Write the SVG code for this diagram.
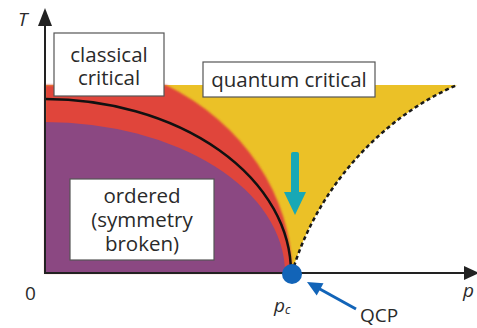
<svg xmlns="http://www.w3.org/2000/svg" width="477" height="328" viewBox="0 0 477 328">
  <style>
    .box { fill: #ffffff; stroke: #555555; stroke-width: 1.2; }
    .lbl { font-family: "Open Sans", "Noto Sans", sans-serif; font-size: 20.5px; fill: #2a2a2a; text-anchor: middle; }
    .ax { font-family: "Open Sans", "Noto Sans", sans-serif; font-size: 19px; fill: #2a2a2a; }
    .axis { stroke: #222222; stroke-width: 2; fill: none; }
  </style>
  <defs>
    <filter id="soft" x="-5%" y="-5%" width="110%" height="110%">
      <feGaussianBlur stdDeviation="1.2"/>
    </filter>
  </defs>

  <g id="regions">
    <path id="quantum-region" d="M45,85 H457 C380,118 316,190 292,273 H45 Z" fill="#ebc127"/>
    <path id="classical-region" d="M45,85 H166 A247,217 0 0 1 292,273 H45 Z" fill="#e0453a" filter="url(#soft)"/>
    <path id="ordered-region" d="M45,122 A240,151 0 0 1 285,273 H45 Z" fill="#8b4882"/>
    <path id="critical-line" d="M45,99 A246,174 0 0 1 291,273" fill="none" stroke="#111111" stroke-width="2.5"/>
    <path id="crossover" d="M292,273 C316,190 380,118 457,85" fill="none" stroke="#1a1a1a" stroke-width="2.5" stroke-dasharray="4 3"/>
  </g>

  <g id="connectors">
    <line class="axis" x1="45" y1="274" x2="45" y2="22"/>
    <polygon points="45,8 38,26 52,26" fill="#222222"/>
    <line class="axis" x1="44" y1="273" x2="466" y2="273"/>
    <polygon points="479,273 464,266 464,280" fill="#222222"/>
    <g id="teal-arrow" fill="#18a8b5">
      <rect x="291" y="152" width="8" height="44" rx="2"/>
      <polygon points="284,192 306,192 295,215"/>
    </g>
    <g id="qcp-arrow" fill="#1264b8">
      <line x1="356" y1="309" x2="318" y2="288" stroke="#1264b8" stroke-width="3"/>
      <polygon points="307,282 323.5,283.3 316.7,295.5"/>
    </g>
  </g>

  <g id="qcp">
    <circle cx="292" cy="274" r="10" fill="#1264b8"/>
  </g>

  <g id="classical-critical">
    <rect class="box" x="54" y="33" width="110" height="63"/>
    <text class="lbl" x="109" y="62">classical<tspan x="109" dy="23">critical</tspan></text>
  </g>

  <g id="quantum-critical">
    <rect class="box" x="203" y="62" width="172" height="35"/>
    <text class="lbl" x="289" y="87">quantum critical</text>
  </g>

  <g id="ordered">
    <rect class="box" x="70" y="179" width="144" height="81"/>
    <text class="lbl" x="142" y="203">ordered<tspan x="142" dy="24">(symmetry</tspan><tspan x="142" dy="24">broken)</tspan></text>
  </g>

  <g id="axis-labels">
    <text class="ax" x="18" y="26" font-style="italic">T</text>
    <text class="ax" x="25" y="300" font-size="20">0</text>
    <text class="ax" x="274" y="312" font-style="italic">p<tspan font-size="12" dy="2">c</tspan></text>
    <text class="ax" x="463" y="297" font-style="italic">p</text>
    <text class="ax" x="360" y="322" font-size="18">QCP</text>
  </g>
</svg>
